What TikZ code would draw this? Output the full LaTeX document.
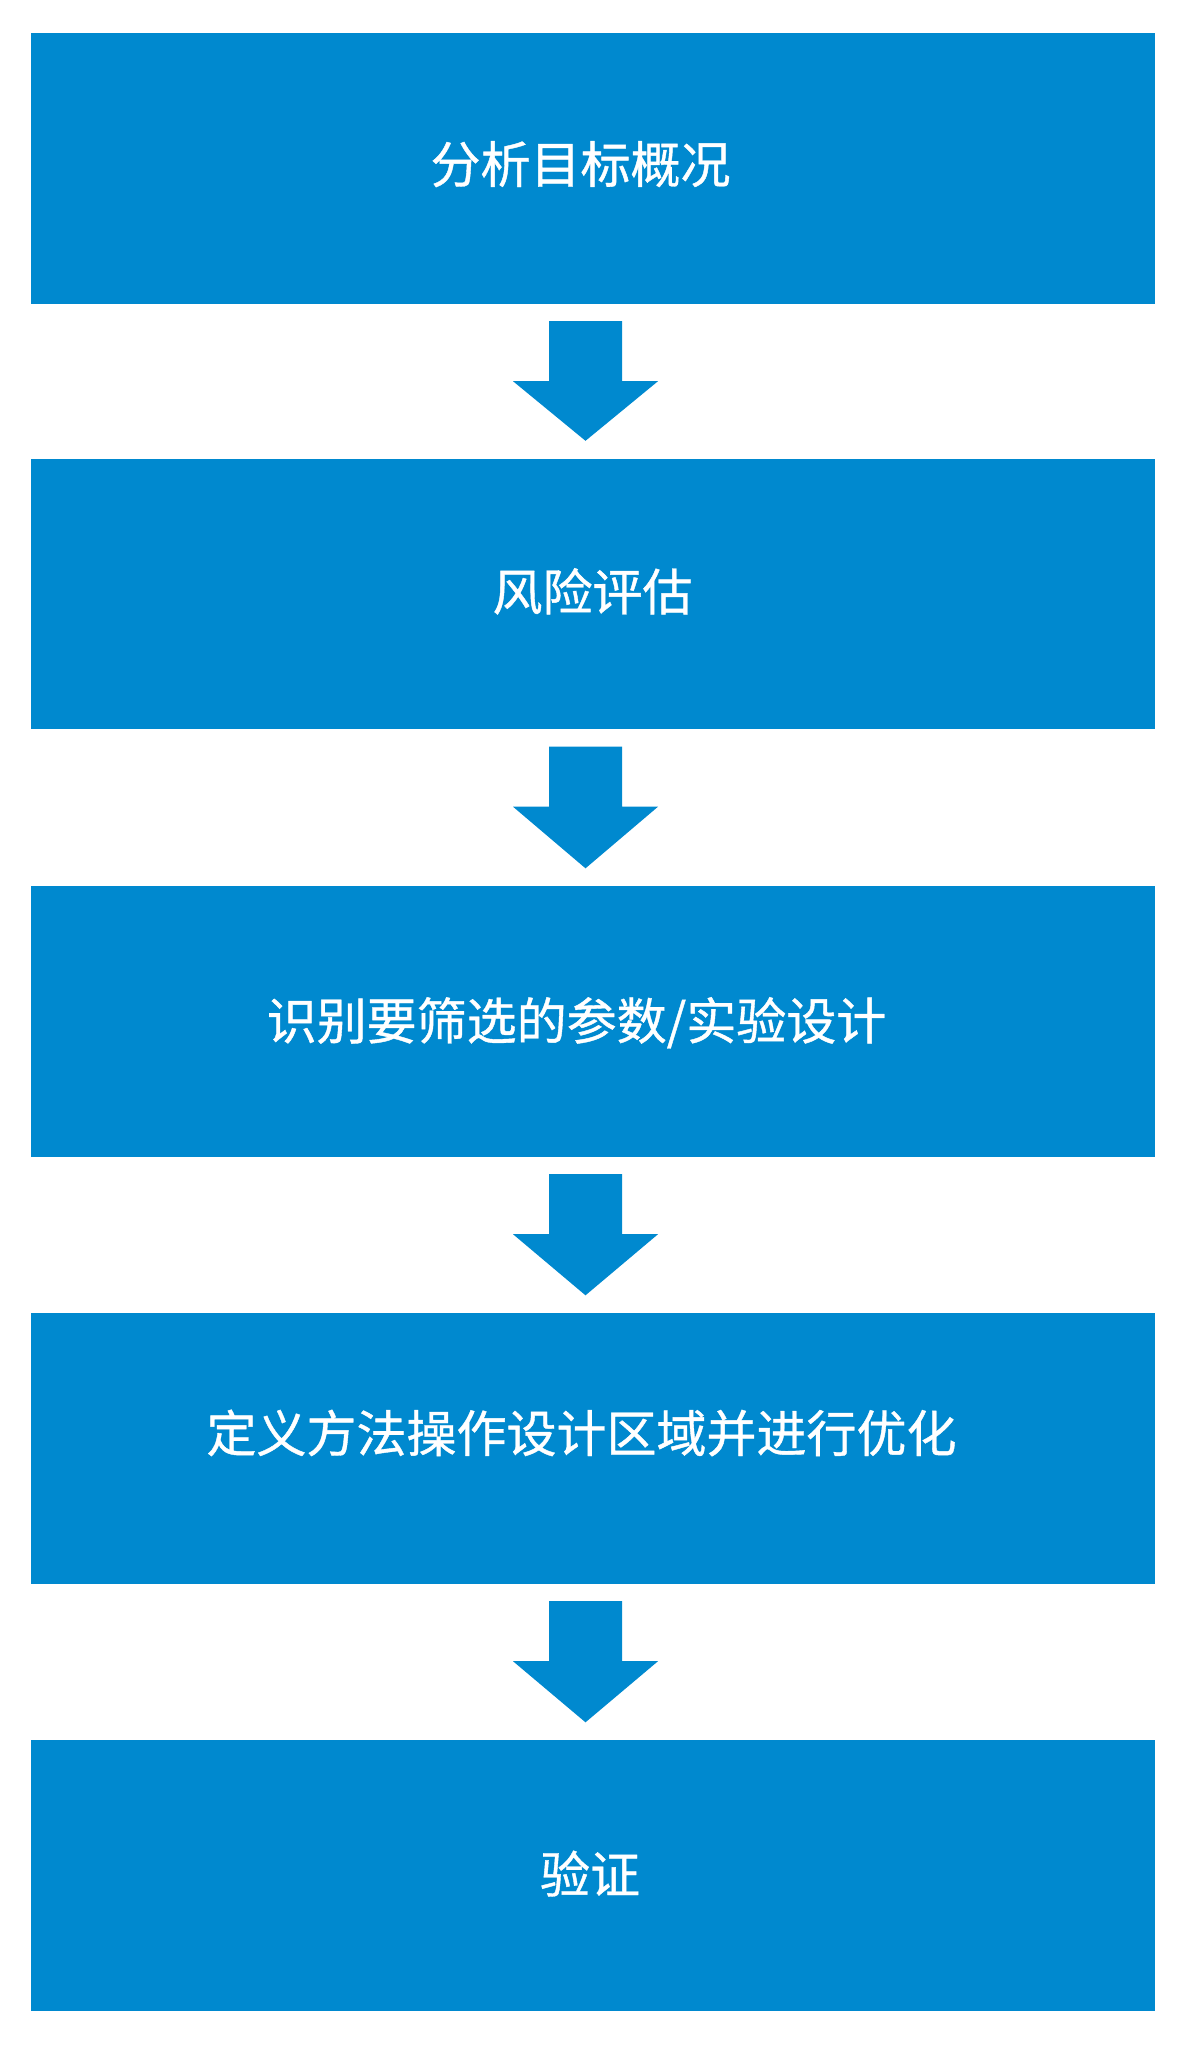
\documentclass[tikz,border=0pt]{standalone}
\usepackage{fontspec}
\newfontfamily\cjk[FakeBold=0.8]{Noto Sans CJK SC}
\definecolor{boxblue}{RGB}{0,137,207}
\begin{document}
\begin{tikzpicture}[x=1pt,y=-1pt,
  stepbox/.style={rectangle,fill=boxblue,draw=none,inner sep=0pt,
    minimum width=1124pt,minimum height=270.5pt},
  lbl/.style={anchor=base,inner sep=0pt,text=white,font=\cjk\fontsize{50}{60}\selectfont},
  flow/.style={fill=boxblue,draw=none}]
\useasboundingbox (0,0) rectangle (1186,2048);
\fill[white] (0,0) rectangle (1186,2048);
\node[stepbox] (b1) at (593,168.25) {};
\node[stepbox] (b2) at (593,593.75) {};
\node[stepbox] (b3) at (593,1021.25) {};
\node[stepbox] (b4) at (593,1448.25) {};
\node[stepbox] (b5) at (593,1875.25) {};
\node[lbl] (t1) at (580.5,183) {分析目标概况};
\node[lbl] (t2) at (592.5,610.5) {风险评估};
\node[lbl] (t3) at (576.5,1039.5) {识别要筛选的参数/实验设计};
\node[lbl] (t4) at (581.5,1452) {定义方法操作设计区域并进行优化};
\node[lbl] (t5) at (590,1893) {验证};
\foreach \a/\b in {b1/b2,b2/b3,b3/b4,b4/b5}{
  \fill[flow] ([xshift=-44pt,yshift=-17.5pt]\a.south)
    -- ([xshift=29pt,yshift=-17.5pt]\a.south)
    -- ([xshift=29pt,yshift=-77.5pt]\a.south)
    -- ([xshift=65pt,yshift=-77.5pt]\a.south)
    -- ([xshift=-7.5pt,yshift=17.5pt]\b.north)
    -- ([xshift=-80pt,yshift=-77.5pt]\a.south)
    -- ([xshift=-44pt,yshift=-77.5pt]\a.south)
    -- cycle;
}
\end{tikzpicture}
\end{document}
